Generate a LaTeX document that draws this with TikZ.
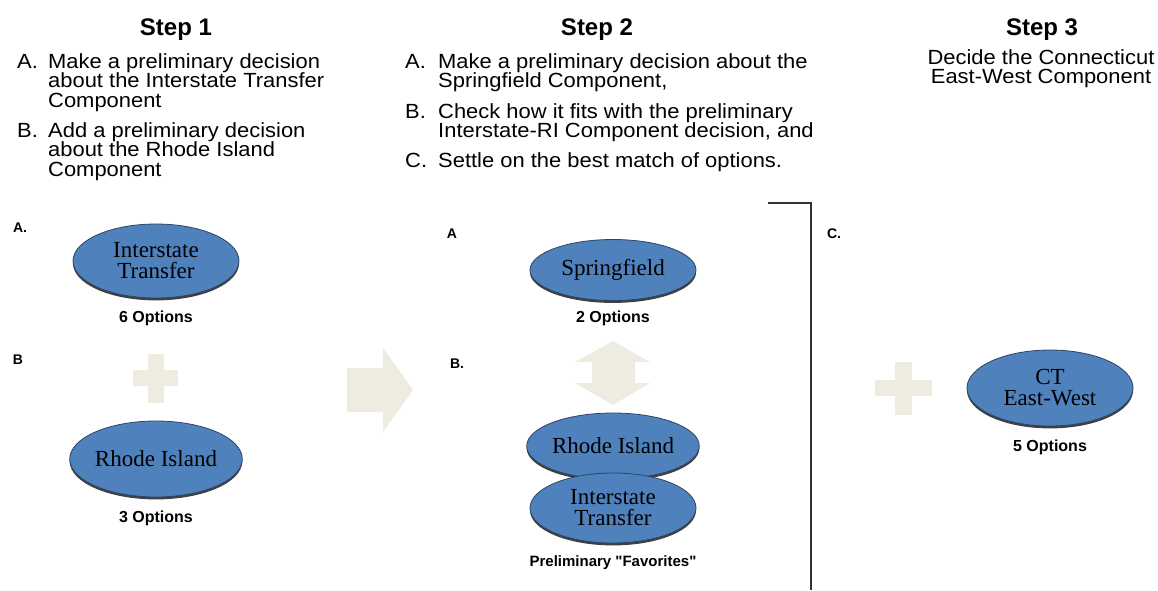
\documentclass[tikz,border=0pt]{standalone}
\usepackage{fontspec}
\setmainfont{Liberation Sans}
\newfontfamily\serifface{Liberation Serif}
\newfontfamily\wideface[FakeStretch=1.07]{Liberation Sans}
\newfontfamily\plainquotes{Liberation Sans}
\usetikzlibrary{shapes.geometric,shadows}

\definecolor{ovalblue}{HTML}{4F81BD}
\definecolor{ovaledge}{HTML}{2C4566}
\definecolor{paleshape}{HTML}{EEECE1}
\definecolor{rulegray}{HTML}{333333}

% stacked lines with a fixed baseline distance; the box baseline is the first line
\newcommand\stacklines[1]{\vtop{\lineskiplimit=-100pt\lineskip=0pt #1}}

\tikzset{
  title/.style={font=\bfseries\fontsize{24}{28}\selectfont, anchor=base, inner sep=0pt},
  body/.style={font=\wideface\fontsize{20.5}{19.5}\selectfont, anchor=base west, inner sep=0pt},
  tag/.style={font=\bfseries\fontsize{14}{16}\selectfont, inner sep=0pt},
  caption/.style={font=\bfseries\fontsize{16}{18}\selectfont, inner sep=0pt},
  oval/.style={ellipse, fill=ovalblue, draw=ovaledge, line width=0.8pt,
    inner sep=0pt, minimum width=166pt, align=center,
    font=\serifface\fontsize{23}{21}\selectfont,
    drop shadow={shadow xshift=0pt, shadow yshift=-2.4pt, fill=black!75, opacity=1}},
  pale/.style={fill=paleshape, draw=none},
  bracket/.style={draw=rulegray, line width=2.4pt}
}

\begin{document}
\begin{tikzpicture}[x=1pt,y=-1pt]
\fill[white] (0,0) rectangle (1158,590);
\useasboundingbox (0,0) rectangle (1158,590);

% ---- step headings
\node[title] (t1) at (176,35) {Step 1};
\node[title] (t2) at (597,35) {Step 2};
\node[title] (t3) at (1042,35) {Step 3};

% ---- step 1 instructions
\node[body] (s1a) at (17,68) {A.};
\node[body] (s1at) at (48,68) {\stacklines{\hbox{Make a preliminary decision}\hbox{about the Interstate Transfer}\hbox{Component}}};
\node[body] (s1b) at (17,137) {B.};
\node[body] (s1bt) at (48,137) {\stacklines{\hbox{Add a preliminary decision}\hbox{about the Rhode Island}\hbox{Component}}};

% ---- step 2 instructions
\node[body] (s2a) at (405,68) {A.};
\node[body] (s2at) at (438,68) {\stacklines{\hbox{Make a preliminary decision about the}\hbox{Springfield Component,}}};
\node[body] (s2b) at (405,118) {B.};
\node[body] (s2bt) at (438,118) {\stacklines{\hbox{Check how it fits with the preliminary}\hbox{Interstate-RI Component decision, and}}};
\node[body] (s2c) at (405,167) {C.};
\node[body] (s2ct) at (438,167) {Settle on the best match of options.};

% ---- step 3 instruction
\node[body, anchor=base] (s3t) at (1041,64) {\stacklines{\hbox to 260pt{\hfil Decide the Connecticut\hfil}\hbox to 260pt{\hfil East-West Component\hfil}}};

% ---- part labels
\node[tag] (la1) at (20,228) {A.};
\node[tag] (lb1) at (18,360) {B};
\node[tag] (la2) at (452,234) {A};
\node[tag] (lb2) at (457,364) {B.};
\node[tag] (lc3) at (834,234) {C.};

% ---- light symbols
\fill[pale] (133,370) rectangle (178,386);
\fill[pale] (148,354) rectangle (164,403);
\fill[pale] (347,368) -- (383,368) -- (383,348) -- (413,390) -- (383,432)
  -- (383,412) -- (347,412) -- cycle;
\fill[pale] (613,341) -- (650,362) -- (635,362) -- (635,383) -- (650,383)
  -- (613,405) -- (575,383) -- (592,383) -- (592,362) -- (575,362) -- cycle;
\fill[pale] (875,380) rectangle (932,396);
\fill[pale] (895,362) rectangle (912,415);

% ---- divider before step C
\draw[bracket] (768,203) -- (811,203) -- (811,590);

% ---- components
\node[oval, minimum height=74pt] (it1) at (156,261) {Interstate\\Transfer};
\node[caption] (o1) at (156,318) {6 Options};
\node[oval, minimum height=76pt] (ri1) at (156,459) {Rhode Island};
\node[caption] (o2) at (156,518) {3 Options};

\node[oval, minimum height=61pt] (sp) at (613,270) {Springfield};
\node[caption] (o3) at (613,318) {2 Options};
\node[oval, minimum height=66pt] (ri2) at (613,446) {Rhode Island};
\node[oval, minimum height=70pt] (it2) at (613,508) {Interstate\\Transfer};
\node[caption, font=\plainquotes\bfseries\fontsize{15}{17}\selectfont] (fav) at (613,563) {Preliminary "Favorites"};

\node[oval, minimum height=76pt] (ct) at (1050,388) {CT\\East-West};
\node[caption] (o4) at (1050,447) {5 Options};
\end{tikzpicture}
\end{document}
